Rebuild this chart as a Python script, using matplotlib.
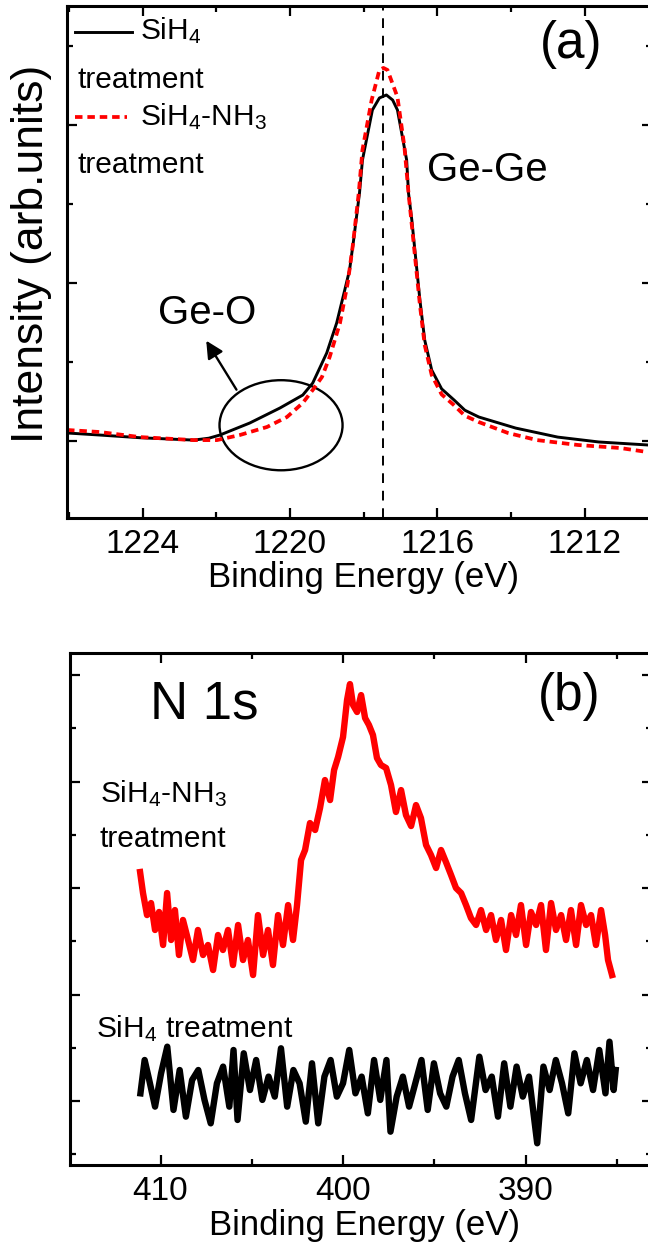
import matplotlib
matplotlib.use("Agg")
import matplotlib.pyplot as plt
from matplotlib.patches import Ellipse
from matplotlib.ticker import MultipleLocator, NullFormatter

plt.rcParams['font.family'] = ['Liberation Sans', 'DejaVu Sans']
plt.rcParams['mathtext.fontset'] = 'custom'
plt.rcParams['mathtext.rm'] = 'Liberation Sans'
plt.rcParams['mathtext.it'] = 'Liberation Sans:italic'
plt.rcParams['mathtext.bf'] = 'Liberation Sans:bold'

# ---------------- data: panel (a) Ge 2p ----------------
ge_black_E = [1226.05, 1225.16, 1224.07, 1222.61, 1222.20, 1221.90, 1221.09, 1220.27, 1219.65,
              1219.38, 1219.00, 1218.73, 1218.51, 1218.38, 1218.27, 1218.11, 1218.03,
              1217.76, 1217.57, 1217.38, 1217.21, 1217.08, 1216.83, 1216.78, 1216.69,
              1216.58, 1216.47, 1216.34, 1216.15, 1215.88, 1215.54, 1215.25, 1214.87, 1213.87,
              1212.73, 1211.61, 1210.28]
ge_black_I = [0.051, 0.038, 0.021, 0.006, 0.018, 0.038, 0.114, 0.209, 0.291,
              0.367, 0.557, 0.747, 0.956, 1.082, 1.272, 1.570, 1.778,
              2.095, 2.171, 2.190, 2.158, 2.095, 1.778, 1.570, 1.399,
              1.146, 0.892, 0.639, 0.449, 0.330, 0.259, 0.195, 0.152, 0.082,
              0.025, -0.006, -0.025]
ge_red_E = [1226.05, 1225.16, 1224.07, 1222.61, 1221.98, 1221.36, 1220.62, 1220.08,
            1219.65, 1219.38, 1219.13, 1218.92, 1218.64, 1218.43, 1218.29, 1218.13,
            1218.03, 1217.78, 1217.57, 1217.46, 1217.35, 1217.08, 1216.89, 1216.78,
            1216.69, 1216.58, 1216.47, 1216.34, 1216.15, 1215.88, 1215.55, 1215.25, 1214.87,
            1214.08, 1213.29, 1212.18, 1211.04, 1210.28]
ge_red_I = [0.070, 0.057, 0.025, 0.006, 0.006, 0.038, 0.089, 0.152,
            0.241, 0.323, 0.405, 0.532, 0.747, 1.000, 1.241, 1.570,
            1.842, 2.158, 2.348, 2.361, 2.348, 2.177, 1.861, 1.570,
            1.367, 1.114, 0.861, 0.608, 0.418, 0.295, 0.228, 0.160, 0.120,
            0.051, 0.006, -0.025, -0.044, -0.070]
ge_peak_E = 1217.46

# ---------------- data: panel (b) N 1s ----------------
n_red_E = [411.12, 410.96, 410.74, 410.52, 410.30, 410.08, 409.86, 409.64, 409.42, 409.21,
           408.99, 408.77, 408.49, 408.22, 407.95, 407.67, 407.40, 407.12, 406.85, 406.58,
           406.30, 406.03, 405.75, 405.48, 405.21, 404.93, 404.66, 404.38, 404.11, 403.84,
           403.56, 403.29, 403.01, 402.74, 402.52, 402.30, 402.08, 401.81, 401.53, 401.26,
           400.99, 400.71, 400.49, 400.27, 400.00, 399.78, 399.62, 399.45, 399.23, 399.01,
           398.79, 398.58, 398.36, 398.14, 397.92, 397.64, 397.37, 397.10, 396.82, 396.55,
           396.27, 396.00, 395.73, 395.45, 395.18, 394.90, 394.63, 394.36, 394.08, 393.81,
           393.53, 393.26, 392.99, 392.71, 392.44, 392.16, 391.89, 391.62, 391.34, 391.07,
           390.79, 390.52, 390.25, 389.97, 389.70, 389.42, 389.15, 388.88, 388.60, 388.33,
           388.05, 387.78, 387.51, 387.23, 386.96, 386.68, 386.41, 386.14, 385.86, 385.64,
           385.48, 385.26]
n_red_I = [2.150, 1.953, 1.746, 1.859, 1.606, 1.775, 1.465, 1.953, 1.512, 1.793,
           1.371, 1.700, 1.512, 1.324, 1.606, 1.371, 1.465, 1.230, 1.559, 1.418,
           1.606, 1.277, 1.653, 1.324, 1.512, 1.183, 1.746, 1.371, 1.606, 1.277,
           1.746, 1.465, 1.840, 1.512, 1.840, 2.263, 2.357, 2.610, 2.545, 2.751,
           3.014, 2.826, 3.108, 3.230, 3.418, 3.765, 3.915, 3.718, 3.653, 3.812,
           3.596, 3.531, 3.437, 3.221, 3.155, 3.127, 2.967, 2.714, 2.920, 2.685,
           2.582, 2.779, 2.657, 2.404, 2.310, 2.188, 2.357, 2.244, 2.122, 2.000,
           1.953, 1.840, 1.718, 1.653, 1.793, 1.606, 1.746, 1.512, 1.700, 1.418,
           1.746, 1.559, 1.840, 1.465, 1.775, 1.653, 1.840, 1.418, 1.859, 1.606,
           1.746, 1.512, 1.793, 1.465, 1.840, 1.653, 1.746, 1.465, 1.793, 1.559,
           1.324, 1.183]
n_black_E = [411.10, 410.87, 410.64, 410.30, 409.97, 409.63, 409.29, 408.95, 408.61, 408.27,
             407.93, 407.59, 407.25, 406.91, 406.57, 406.23, 406.00, 405.78, 405.44, 405.10,
             404.76, 404.42, 404.08, 403.74, 403.40, 403.06, 402.72, 402.38, 402.04, 401.70,
             401.36, 401.02, 400.68, 400.34, 400.00, 399.66, 399.32, 398.98, 398.64, 398.30,
             397.96, 397.62, 397.40, 397.06, 396.72, 396.38, 396.04, 395.70, 395.36, 395.02,
             394.68, 394.34, 394.00, 393.66, 393.32, 392.98, 392.53, 392.19, 391.85, 391.51,
             391.17, 390.83, 390.49, 390.15, 389.81, 389.36, 389.02, 388.68, 388.34, 388.00,
             387.66, 387.32, 386.98, 386.64, 386.30, 385.96, 385.62, 385.40, 385.17, 385.06]
n_black_I = [0.072, 0.385, 0.213, -0.053, 0.260, 0.510, -0.084, 0.291, -0.147, 0.197,
             0.291, 0.010, -0.210, 0.166, 0.323, -0.053, 0.479, -0.178, 0.448, 0.103,
             0.385, 0.010, 0.229, 0.041, 0.495, -0.053, 0.291, 0.166, -0.194, 0.354,
             -0.210, 0.229, 0.385, 0.041, 0.166, 0.479, 0.072, 0.229, -0.116, 0.385,
             0.010, 0.385, -0.288, 0.041, 0.229, -0.053, 0.166, 0.385, -0.084, 0.354,
             0.072, -0.053, 0.229, 0.385, 0.072, -0.178, 0.416, 0.103, 0.229, -0.147,
             0.354, -0.053, 0.323, 0.041, 0.229, -0.397, 0.323, 0.103, 0.385, 0.166,
             -0.116, 0.448, 0.166, 0.385, 0.103, 0.479, 0.072, 0.557, 0.103, 0.291]

W, H, DPI = 648, 1245, 100
fig = plt.figure(figsize=(W / DPI, H / DPI), dpi=DPI)

def px_axes(l, t, r, b):
    return fig.add_axes([l / W, 1 - b / H, (r - l) / W, (b - t) / H])

def style(ax):
    for s in ax.spines.values():
        s.set_linewidth(2.2)
    ax.tick_params(which='both', direction='in', top=True, right=True, width=1.6,
                   labelsize=24, pad=8, labelleft=False, labelright=False)
    ax.tick_params(which='major', length=7)
    ax.tick_params(which='minor', length=4)
    ax.yaxis.set_major_formatter(NullFormatter())

# ---------------- panel (a) ----------------
axa = px_axes(67, 6, 652, 518)
axa.plot(ge_black_E, ge_black_I, color='black', lw=2.1, solid_joinstyle='round')
axa.plot(ge_red_E, ge_red_I, color='#ff0000', lw=2.7, dashes=(2.0, 1.3))
axa.axvline(ge_peak_E, color='black', lw=1.4, dashes=(5, 4))
axa.set_xlim(1226.05, 1210.17)
axa.set_ylim(-0.487, 2.753)
axa.xaxis.set_major_locator(MultipleLocator(4))
axa.xaxis.set_minor_locator(MultipleLocator(2))
axa.yaxis.set_major_locator(MultipleLocator(1))
axa.yaxis.set_minor_locator(MultipleLocator(0.5))
style(axa)

axa.add_patch(Ellipse((1220.24, 0.10), 3.34, 0.57, fill=False, lw=1.7, color='black'))
axa.annotate('', xy=(1222.31, 0.65), xytext=(1221.41, 0.31),
             arrowprops=dict(arrowstyle='-|>', lw=1.7, color='black', mutation_scale=26))
axa.text(1222.25, 0.81, 'Ge-O', fontsize=29, ha='center', va='center')
axa.text(1214.65, 1.715, 'Ge-Ge', fontsize=29, ha='center', va='center')
axa.text(0.862, 0.924, '(a)', transform=axa.transAxes, fontsize=37, ha='center', va='center')

# legend drawn Origin-style
axa.plot([0.0137, 0.111], [0.949, 0.949], transform=axa.transAxes, color='black', lw=2.1)
axa.text(0.125, 0.9355, 'SiH$_4$', transform=axa.transAxes, fontsize=21.5, va='baseline')
axa.text(0.0171, 0.8398, 'treatment', transform=axa.transAxes, fontsize=21.5, va='baseline')
axa.plot([0.0137, 0.1026], [0.783, 0.783], transform=axa.transAxes, color='#ff0000',
         lw=2.7, dashes=(2.0, 1.3))
axa.text(0.125, 0.7676, 'SiH$_4$-NH$_3$', transform=axa.transAxes, fontsize=21.5, va='baseline')
axa.text(0.0171, 0.674, 'treatment', transform=axa.transAxes, fontsize=21.5, va='baseline')

fig.text(32 / W, 1 - 254 / H, 'Intensity (arb.units)', rotation=90, fontsize=32,
         ha='center', va='center')
fig.text(363 / W, 1 - 578 / H, 'Binding Energy (eV)', fontsize=25, ha='center', va='center')

# ---------------- panel (b) ----------------
axb = px_axes(70, 653, 652, 1165)
axb.plot(n_red_E, n_red_I, color='#ff0000', lw=4.6, solid_joinstyle='round')
axb.plot(n_black_E, n_black_I, color='black', lw=4.6, solid_joinstyle='round')
axb.set_xlim(414.96, 383.07)
axb.set_ylim(-0.601, 4.207)
axb.xaxis.set_major_locator(MultipleLocator(10))
axb.xaxis.set_minor_locator(MultipleLocator(5))
axb.yaxis.set_major_locator(MultipleLocator(1))
axb.yaxis.set_minor_locator(MultipleLocator(0.5))
style(axb)

axb.text(0.137, 0.873, 'N 1s', transform=axb.transAxes, fontsize=38, va='baseline')
axb.text(0.857, 0.916, '(b)', transform=axb.transAxes, fontsize=37, ha='center', va='center')
axb.text(0.0515, 0.709, 'SiH$_4$-NH$_3$', transform=axb.transAxes, fontsize=21.5, va='baseline')
axb.text(0.0515, 0.621, 'treatment', transform=axb.transAxes, fontsize=21.5, va='baseline')
axb.text(0.0447, 0.25, 'SiH$_4$ treatment', transform=axb.transAxes, fontsize=21.5, va='baseline')

fig.text(365 / W, 1 - 1225 / H, 'Binding Energy (eV)', fontsize=25, ha='center', va='center')

fig.savefig('out.png', dpi=DPI)
